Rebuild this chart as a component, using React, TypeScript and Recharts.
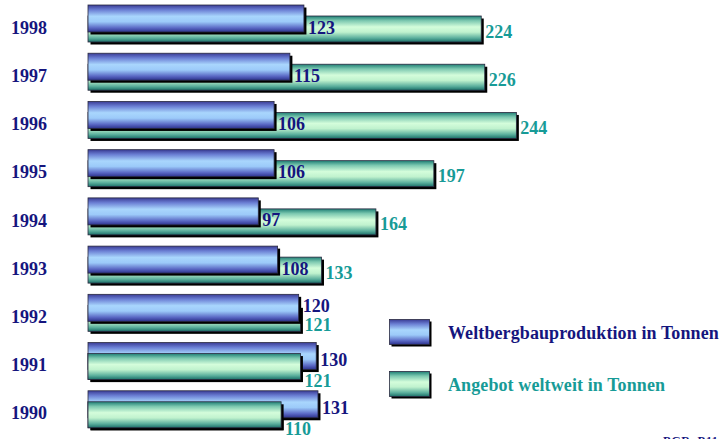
import React from 'react';
import { BarChart, Bar, XAxis, YAxis, LabelList, Legend } from 'recharts';

const years = ['1998', '1997', '1996', '1995', '1994', '1993', '1992', '1991', '1990'];
const production = [123, 115, 106, 106, 97, 108, 120, 130, 131];
const supply = [224, 226, 244, 197, 164, 133, 121, 121, 110];

const data = years.map((y, i) => ({ year: y, prod: production[i], supply: supply[i] }));

const NAVY = '#15157e';
const TEAL = '#179b97';
const FONT = '"Liberation Serif", "Times New Roman", serif';
const FS = 18;

const BlueStops = () => (
  <>
    <stop offset="0%" stopColor="#3a3c96" />
    <stop offset="18%" stopColor="#6b7fd4" />
    <stop offset="42%" stopColor="#a9d6fd" />
    <stop offset="62%" stopColor="#9ccaf9" />
    <stop offset="85%" stopColor="#5a68c4" />
    <stop offset="100%" stopColor="#2c328c" />
  </>
);

const GreenStops = () => (
  <>
    <stop offset="0%" stopColor="#1f7f75" />
    <stop offset="18%" stopColor="#7cc8b0" />
    <stop offset="42%" stopColor="#d4fddb" />
    <stop offset="62%" stopColor="#c0f2ce" />
    <stop offset="85%" stopColor="#5aae9c" />
    <stop offset="100%" stopColor="#1b6f68" />
  </>
);

const drawBar = (props: any, gradId: string) => {
  const { x, y, width, height } = props;
  if (!width || width <= 0) return null;
  return (
    <g>
      <rect x={x + 2.5} y={y + 2.5} width={width} height={height} fill="#000" />
      <rect x={x} y={y} width={width} height={height} fill={`url(#${gradId})`} stroke="#2a2a40" strokeWidth={0.8} />
    </g>
  );
};

const prodLabel = (props: any) => {
  const { x, y, width, height, value, index } = props;
  const p = production[index];
  const s = supply[index];
  const c = y + height / 2;
  let dyc = 9;
  if (p > s) dyc = 3.5;
  else if (s - p < 5) dyc = -2;
  return (
    <text x={x + width + 4} y={c + dyc + 6.1} fill={NAVY} fontFamily={FONT} fontWeight="bold" fontSize={FS}>
      {value}
    </text>
  );
};

const supplyLabel = (props: any) => {
  const { x, y, width, height, value, index } = props;
  const p = production[index];
  const s = supply[index];
  const c = y + height / 2;
  let dyc = 2.5;
  if (p > s) dyc = 14.5;
  else if (s - p < 5) dyc = 6.5;
  return (
    <text x={x + width + 4} y={c + dyc + 6.1} fill={TEAL} fontFamily={FONT} fontWeight="bold" fontSize={FS}>
      {value}
    </text>
  );
};

const YearTick = (props: any) => {
  const { y, payload } = props;
  return (
    <text x={47} y={y + 9.5} textAnchor="end" fill={NAVY} fontFamily={FONT} fontWeight="bold" fontSize={FS}>
      {payload.value}
    </text>
  );
};

const Swatch = ({ kind }: { kind: 'b' | 'g' }) => (
  <svg width={44} height={29} style={{ display: 'block' }}>
    <defs>
      <linearGradient id={`lg-${kind}`} x1="0" y1="0" x2="0" y2="1">
        {kind === 'b' ? <BlueStops /> : <GreenStops />}
      </linearGradient>
    </defs>
    <rect x={2.5} y={2.5} width={40} height={25} fill="#000" />
    <rect x={0.5} y={0.5} width={40} height={25} fill={`url(#lg-${kind})`} stroke="#2a2a40" strokeWidth={0.8} />
  </svg>
);

const LegendContent = () => (
  <div style={{ fontFamily: FONT, fontWeight: 'bold', fontSize: FS }}>
    <div style={{ display: 'flex', alignItems: 'center', height: 29 }}>
      <Swatch kind="b" />
      <span style={{ marginLeft: 15, color: NAVY, letterSpacing: 0.1, whiteSpace: 'nowrap' }}>Weltbergbauproduktion in Tonnen</span>
    </div>
    <div style={{ display: 'flex', alignItems: 'center', height: 29, marginTop: 23 }}>
      <Swatch kind="g" />
      <span style={{ marginLeft: 15, color: TEAL, letterSpacing: 0.1, whiteSpace: 'nowrap' }}>Angebot weltweit in Tonnen</span>
    </div>
  </div>
);

const Layer = ({ overlay }: { overlay: boolean }) => (
  <BarChart
    width={720}
    height={439}
    data={data}
    layout="vertical"
    margin={{ top: 0, right: 0, bottom: 5, left: 0 }}
    barGap={-37}
    barCategoryGap={0}
  >
    <defs>
      <linearGradient id={overlay ? 'gradGreen2' : 'gradBlue'} x1="0" y1="0" x2="0" y2="1">
        {overlay ? <GreenStops /> : <BlueStops />}
      </linearGradient>
      {!overlay && (
        <linearGradient id="gradGreen" x1="0" y1="0" x2="0" y2="1">
          <GreenStops />
        </linearGradient>
      )}
    </defs>
    <XAxis type="number" domain={[0, 360]} hide />
    <YAxis
      type="category"
      dataKey="year"
      width={88}
      axisLine={false}
      tickLine={false}
      tick={overlay ? false : <YearTick />}
      interval={0}
    />
    <Bar
      dataKey="supply"
      name="Angebot weltweit in Tonnen"
      barSize={26}
      shape={(p: any) =>
        overlay
          ? production[p.index] > supply[p.index]
            ? drawBar(p, 'gradGreen2')
            : <g />
          : drawBar(p, 'gradGreen')
      }
      isAnimationActive={false}
    >
      {!overlay && <LabelList dataKey="supply" content={supplyLabel} />}
    </Bar>
    <Bar
      dataKey="prod"
      name="Weltbergbauproduktion in Tonnen"
      barSize={27}
      shape={(p: any) => (overlay ? <g /> : drawBar(p, 'gradBlue'))}
      isAnimationActive={false}
    >
      {!overlay && <LabelList dataKey="prod" content={prodLabel} />}
    </Bar>
    {!overlay && (
      <Legend
        layout="horizontal"
        verticalAlign="middle"
        align="center"
        content={<LegendContent />}
        wrapperStyle={{ position: 'absolute', left: 389, top: 319, width: 331, height: 90 }}
      />
    )}
    {!overlay && (
      <text x={663} y={445} fill={NAVY} fontFamily={FONT} fontWeight="bold" fontSize={12} letterSpacing={0.5}>
        BGR, B11
      </text>
    )}
  </BarChart>
);

export default function App() {
  return (
    <div style={{ position: 'absolute', left: 0, top: 0, width: 720, height: 439, overflow: 'hidden', background: '#fff' }}>
      <div style={{ position: 'absolute', left: 0, top: 0 }}>
        <Layer overlay={false} />
      </div>
      <div style={{ position: 'absolute', left: 0, top: 0, pointerEvents: 'none' }}>
        <Layer overlay={true} />
      </div>
    </div>
  );
}
